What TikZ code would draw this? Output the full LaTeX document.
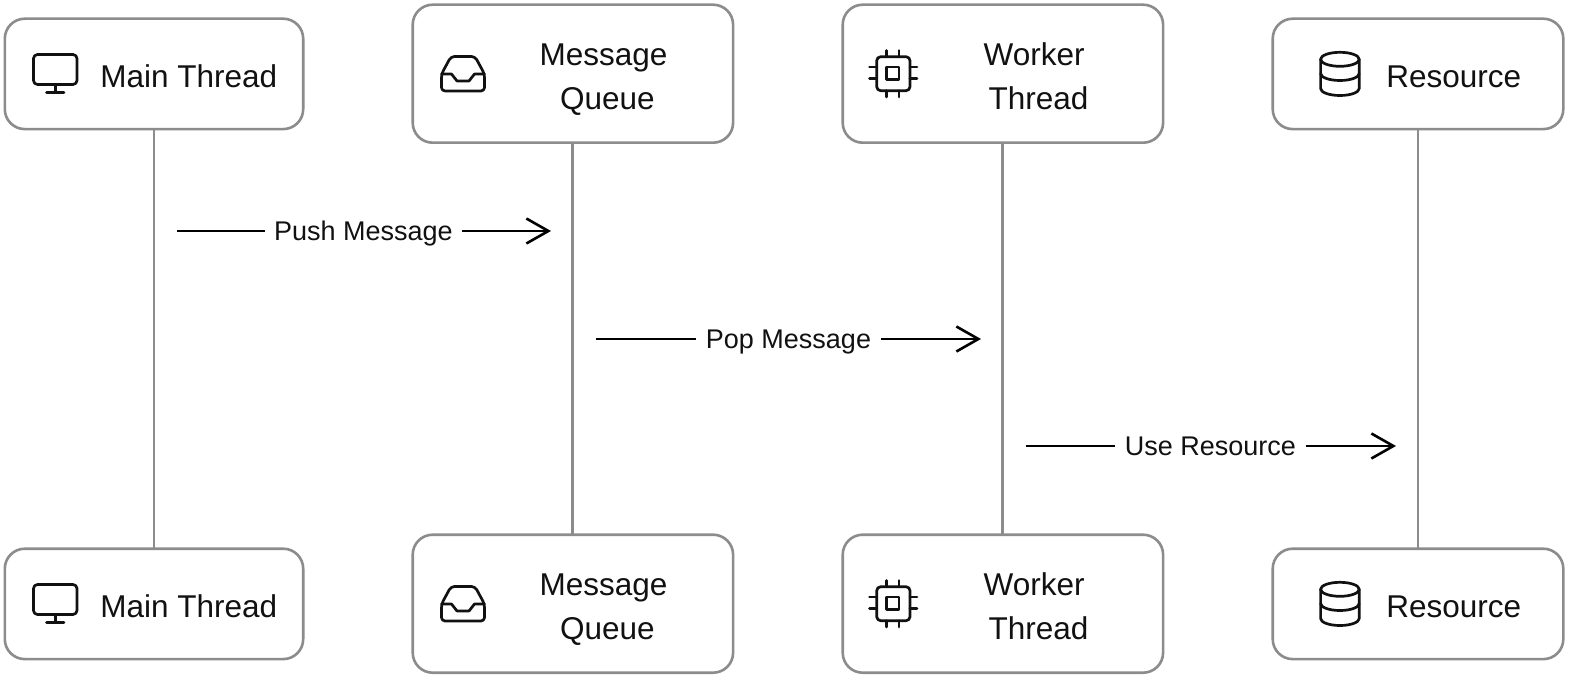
\documentclass[tikz,border=0pt]{standalone}
\usepackage{fontspec}
\setmainfont{Liberation Sans}
\usetikzlibrary{arrows.meta}
\definecolor{ink}{HTML}{111111}
\definecolor{edge}{HTML}{8C8C8C}
\tikzset{
  x=1pt,y=-1pt,
  box/.style={draw=edge,line width=2.6pt,rounded corners=20pt,fill=white,outer sep=0pt,inner sep=0pt},
  lowbox/.style={box,minimum height=110.4pt},
  tallbox/.style={box,minimum height=138pt},
  title/.style={anchor=base west,inner sep=0pt,outer sep=0pt,text=ink,font=\fontsize{31.5}{36}\selectfont},
  msg/.style={text=ink,font=\fontsize{27}{30}\selectfont,inner xsep=9.5pt,inner ysep=0pt,outer sep=0pt,text height=24pt,text depth=6pt},
  life/.style={draw=edge,line width=2.9pt},
  flow/.style={draw=black,line width=2.2pt},
  flowend/.style={flow,-{Straight Barb[length=22pt,width=25pt,line width=2.6pt]}},
  icon/.style={draw=ink,line width=2.7pt,line cap=round,line join=round}
}
\begin{document}
\begin{tikzpicture}
\useasboundingbox[fill=white] (0,0) rectangle (1578,687);
\foreach \r/\o in {top/0,bot/530}{
  \begin{scope}[yshift=-\o pt]
    \node[lowbox,minimum width=298.4pt] (main\r) at (154,73.9) {};
    \node[tallbox,minimum width=320.4pt] (queue\r) at (572.9,73.7) {};
    \node[tallbox,minimum width=320.4pt] (worker\r) at (1002.9,73.7) {};
    \node[lowbox,minimum width=290.6pt] (res\r) at (1418,73.9) {};
    \node[title] (mainText\r) at (100.3,87.3) {Main Thread};
    \node[title] (queueA\r) at (539.7,65.5) {Message};
    \node[title] (queueB\r) at (560,109.7) {Queue};
    \node[title] (workerA\r) at (983.7,65.5) {Worker};
    \node[title] (workerB\r) at (988.5,109.7) {Thread};
    \node[title] (resText\r) at (1386.3,87.3) {Resource};
    % monitor
    \draw[icon,rounded corners=4pt] (33.5,54.5) rectangle (77,84.5);
    \draw[icon] (55.2,84.5) -- (55.2,92.5) (46.5,92.5) -- (64,92.5);
    % inbox
    \draw[icon,rounded corners=3.5pt] (451,56.5) -- (475,56.5) -- (484.5,74) -- (484.5,91) -- (441.5,91) -- (441.5,74) -- cycle;
    \draw[icon] (441.5,74) -- (451.5,74) -- (457,81) -- (469,81) -- (474.5,74) -- (484.5,74);
    % chip
    \draw[icon,rounded corners=4pt] (876.7,56.7) rectangle (910,90.7);
    \draw[icon,line cap=butt] (886.5,67) rectangle (899,79.7);
    \draw[icon] (886.7,50.5) -- (886.7,56.7) (899,50.5) -- (899,56.7)
                (886.7,90.7) -- (886.7,97) (899,90.7) -- (899,97)
                (869.5,67) -- (876.7,67) (869.5,78.5) -- (876.7,78.5)
                (910,67) -- (917,67) (910,78.5) -- (917,78.5);
    % database
    \draw[icon] (1339.9,59.3) ellipse [x radius=19.3pt,y radius=7pt];
    \draw[icon] (1320.6,59.3) -- (1320.6,88.5) arc [start angle=180,end angle=360,x radius=19.3pt,y radius=7pt] -- (1359.2,59.3);
    \draw[icon] (1320.6,73.5) arc [start angle=180,end angle=360,x radius=19.3pt,y radius=7pt];
  \end{scope}
}
\draw[life] (maintop.south) -- (mainbot.north);
\draw[life] (queuetop.south) -- (queuebot.north);
\draw[life] (workertop.south) -- (workerbot.north);
\draw[life] (restop.south) -- (resbot.north);

\coordinate (pushS) at (177,231);
\coordinate (pushE) at (551,231);
\node[msg] (pushL) at (363.5,231) {Push Message};
\draw[flow] (pushS) -- (pushL);
\draw[flowend] (pushL) -- (pushE);

\coordinate (popS) at (596,339);
\coordinate (popE) at (981,339);
\node[msg] (popL) at (788.5,339) {Pop Message};
\draw[flow] (popS) -- (popL);
\draw[flowend] (popL) -- (popE);

\coordinate (useS) at (1025.5,446);
\coordinate (useE) at (1396,446);
\node[msg] (useL) at (1210.5,446) {Use Resource};
\draw[flow] (useS) -- (useL);
\draw[flowend] (useL) -- (useE);
\end{tikzpicture}
\end{document}
